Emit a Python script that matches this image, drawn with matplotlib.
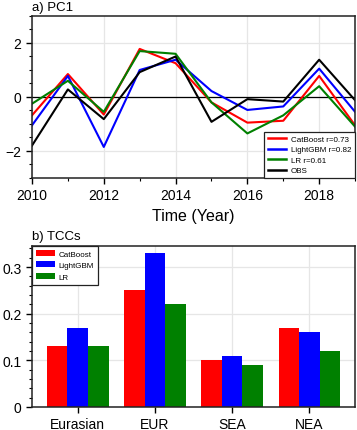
import matplotlib
matplotlib.use('Agg')
import matplotlib.pyplot as plt
from matplotlib.ticker import MultipleLocator

plt.rcParams['font.family'] = ['Liberation Sans', 'DejaVu Sans']

# ---------- Data ----------
years = [2010, 2011, 2012, 2013, 2014, 2015, 2016, 2017, 2018, 2019]
catboost_pc1 = [-0.68, 0.85, -0.65, 1.78, 1.25, -0.2, -0.95, -0.88, 0.78, -1.05]
lightgbm_pc1 = [-1.05, 0.78, -1.85, 1.0, 1.38, 0.22, -0.48, -0.35, 1.05, -0.55]
lr_pc1 = [-0.25, 0.6, -0.55, 1.7, 1.6, -0.2, -1.35, -0.68, 0.4, -1.1]
obs_pc1 = [-1.8, 0.28, -0.82, 0.92, 1.5, -0.92, -0.08, -0.17, 1.38, -0.12]

regions = ['Eurasian', 'EUR', 'SEA', 'NEA']
catboost_tcc = [0.13, 0.25, 0.10, 0.17]
lightgbm_tcc = [0.17, 0.33, 0.11, 0.16]
lr_tcc = [0.13, 0.22, 0.09, 0.12]

RED, BLUE, GREEN = '#ff0000', '#0000ff', '#008000'
GRID = '#e6e6e6'

fig = plt.figure(figsize=(3.57, 4.31), dpi=100)
ax1 = fig.add_axes([0.0896, 0.5847, 0.905, 0.3759])
ax2 = fig.add_axes([0.0896, 0.0534, 0.905, 0.3735])


def style_axes(ax):
    for s in ax.spines.values():
        s.set_linewidth(1.1)
        s.set_color('#222222')
    ax.tick_params(which='major', direction='out', length=4.5, width=1.0,
                   labelsize=10, pad=3, top=False, right=False)
    ax.tick_params(which='minor', direction='out', length=2.5, width=0.8,
                   top=False, right=False)


# ---------- a) PC1 ----------
ax1.plot(years, catboost_pc1, color=RED, lw=1.5, label='CatBoost r=0.73')
ax1.plot(years, lightgbm_pc1, color=BLUE, lw=1.5, label='LightGBM r=0.82')
ax1.plot(years, lr_pc1, color=GREEN, lw=1.5, label='LR r=0.61')
ax1.plot(years, obs_pc1, color='black', lw=1.5, label='OBS')
ax1.axhline(0, color='black', lw=0.9, zorder=1)
ax1.set_xlim(2010, 2019)
ax1.set_ylim(-3, 3)
ax1.set_xticks([2010, 2012, 2014, 2016, 2018])
ax1.set_yticks([-2, 0, 2])
ax1.set_yticklabels(['\u22122', '0', '2'])
ax1.xaxis.set_minor_locator(MultipleLocator(1))
ax1.yaxis.set_minor_locator(MultipleLocator(0.5))
ax1.grid(True, which='major', color=GRID, lw=0.9, zorder=0)
ax1.set_axisbelow(True)
style_axes(ax1)
ax1.set_xlabel('Time (Year)', fontsize=11.5, labelpad=4)
leg = ax1.legend(loc='lower right', fontsize=5.8, frameon=True, fancybox=False,
                 edgecolor='#222222', framealpha=1, borderaxespad=0,
                 handlelength=2.3, handletextpad=0.6, labelspacing=0.35,
                 borderpad=0.45)
leg.get_frame().set_linewidth(0.9)
for ln in leg.get_lines():
    ln.set_linewidth(1.8)
ax1.text(0.0, 1.02, 'a) PC1', transform=ax1.transAxes, fontsize=9.5,
         ha='left', va='bottom')

# ---------- b) TCCs ----------
w = 0.267
xs = list(range(len(regions)))
ax2.bar([x - w for x in xs], catboost_tcc, w, color=RED, label='CatBoost', zorder=2)
ax2.bar(xs, lightgbm_tcc, w, color=BLUE, label='LightGBM', zorder=2)
ax2.bar([x + w for x in xs], lr_tcc, w, color=GREEN, label='LR', zorder=2)
ax2.set_xlim(-0.59, 3.59)
ax2.set_ylim(0, 0.345)
ax2.set_xticks(xs)
ax2.set_xticklabels(regions)
ax2.set_yticks([0, 0.1, 0.2, 0.3])
ax2.set_yticklabels(['0', '0.1', '0.2', '0.3'])
ax2.yaxis.set_minor_locator(MultipleLocator(0.02))
ax2.grid(True, which='major', color=GRID, lw=0.9, zorder=0)
ax2.set_axisbelow(True)
style_axes(ax2)
leg2 = ax2.legend(loc='upper left', fontsize=5.8, frameon=True, fancybox=False,
                  edgecolor='#222222', framealpha=1, borderaxespad=0,
                  handlelength=2.3, handleheight=0.75, handletextpad=0.5,
                  labelspacing=0.45, borderpad=0.5)
leg2.get_frame().set_linewidth(0.9)
ax2.text(0.0, 1.025, 'b) TCCs', transform=ax2.transAxes, fontsize=9.5,
         ha='left', va='bottom')

fig.savefig('out.png', dpi=100)
